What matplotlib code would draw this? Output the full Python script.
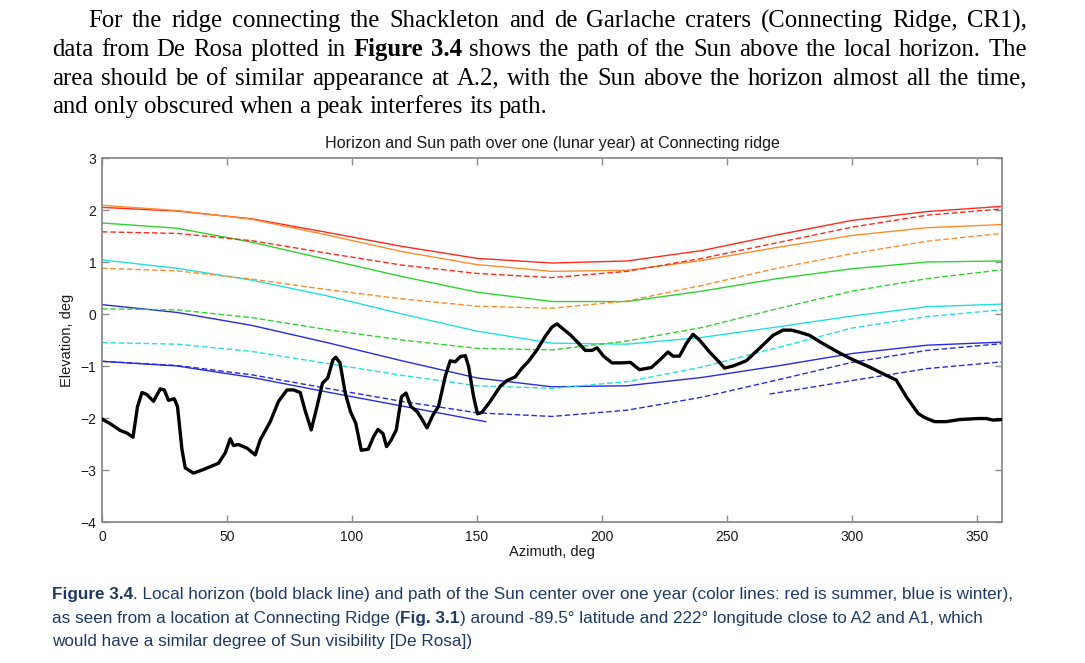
import matplotlib
matplotlib.use("Agg")
import matplotlib.pyplot as plt

# ---------------- data ----------------
TITLE = "Horizon and Sun path over one (lunar year) at Connecting ridge"
XLABEL = "Azimuth, deg"
YLABEL = "Elevation, deg"
XTICKS = [0, 50, 100, 150, 200, 250, 300, 350]
YTICKS = [-4, -3, -2, -1, 0, 1, 2, 3]

# local horizon (azimuth deg, elevation deg)
horizon_pts = [
    (0, -2.02), (3.3, -2.11), (7.3, -2.24), (10, -2.29), (12.4, -2.37), (14.2, -1.78),
    (16, -1.51), (18, -1.55), (20.6, -1.68), (23.3, -1.44), (24.9, -1.46), (26.6, -1.66),
    (28.9, -1.63), (30.2, -1.78), (32, -2.61), (33.3, -2.96), (36.6, -3.06), (40.6, -2.99),
    (46.6, -2.87), (49.3, -2.67), (51.3, -2.40), (52.6, -2.53), (54.6, -2.51), (58, -2.58),
    (61.3, -2.71), (63.3, -2.42), (67.3, -2.07), (70.6, -1.68), (74, -1.46), (76.6, -1.46),
    (79.3, -1.51), (81.2, -1.85), (83.7, -2.23), (86, -1.78), (88.2, -1.33), (90.3, -1.23),
    (92.4, -0.88), (93.5, -0.83), (95.2, -0.94), (97.3, -1.52), (99.4, -1.88), (101.5, -2.10),
    (103.7, -2.62), (106.5, -2.60), (108.6, -2.36), (110.4, -2.22), (112.4, -2.30), (113.8, -2.55),
    (115.6, -2.43), (117.7, -2.23), (119.8, -1.59), (121.6, -1.52), (123.6, -1.78), (126.1, -1.88),
    (128.2, -2.04), (130, -2.19), (132.4, -1.94), (134.6, -1.78), (137.3, -1.20), (139.3, -0.90),
    (141.3, -0.92), (143.3, -0.82), (145.3, -0.80), (146.6, -1.00), (148.6, -1.58), (150.2, -1.92),
    (152, -1.89), (155.3, -1.68), (159.3, -1.39), (162, -1.28), (165.3, -1.21), (168, -1.04),
    (170.6, -0.91), (174, -0.69), (177.3, -0.43), (180, -0.25), (182, -0.19), (184, -0.27),
    (187.3, -0.40), (190.6, -0.56), (193.3, -0.70), (196, -0.70), (198, -0.65), (200.6, -0.81),
    (204, -0.94), (208, -0.94), (211.3, -0.93), (215, -1.07), (219.7, -1.03), (223, -0.89),
    (226.4, -0.73), (228.4, -0.81), (231, -0.81), (233.7, -0.57), (236.4, -0.39), (239, -0.50),
    (243, -0.73), (247, -0.93), (249, -1.04), (252.4, -1.00), (257.7, -0.90), (263, -0.66),
    (268.4, -0.41), (272.4, -0.31), (275.7, -0.31), (279, -0.35), (283, -0.41), (288.4, -0.57),
    (295, -0.75), (300.4, -0.88), (307, -1.02), (313.7, -1.18), (317.7, -1.27), (321.7, -1.59),
    (326.4, -1.91), (329, -1.99), (333, -2.07), (337.7, -2.07), (343, -2.03), (350.4, -2.01),
    (353.7, -2.01), (356.4, -2.04), (360, -2.03),
]

# Sun paths sampled every 30 deg of azimuth
SUN_AZ = [0, 30, 60, 90, 120, 150, 180, 210, 240, 270, 300, 330, 360]
red_solid    = [2.05, 1.98, 1.83, 1.57, 1.30, 1.07, 0.98, 1.02, 1.22, 1.52, 1.80, 1.97, 2.07]
orange_solid = [2.09, 1.99, 1.82, 1.52, 1.20, 0.95, 0.82, 0.84, 1.03, 1.28, 1.51, 1.66, 1.72]
green_solid  = [1.75, 1.65, 1.38, 1.05, 0.72, 0.42, 0.24, 0.24, 0.44, 0.68, 0.87, 1.00, 1.02]
cyan_solid   = [1.04, 0.88, 0.65, 0.35, 0.00, -0.33, -0.56, -0.58, -0.45, -0.25, -0.04, 0.14, 0.19]
blue_solid   = [0.18, 0.03, -0.22, -0.55, -0.90, -1.23, -1.40, -1.38, -1.22, -1.00, -0.76, -0.60, -0.54]
red_dash     = [1.58, 1.55, 1.41, 1.17, 0.94, 0.78, 0.70, 0.82, 1.07, 1.37, 1.67, 1.90, 2.02]
orange_dash  = [0.88, 0.83, 0.67, 0.47, 0.29, 0.15, 0.11, 0.25, 0.55, 0.88, 1.16, 1.40, 1.55]
green_dash   = [0.10, 0.08, -0.07, -0.30, -0.50, -0.66, -0.69, -0.52, -0.26, 0.10, 0.44, 0.68, 0.85]
cyan_dash    = [-0.55, -0.58, -0.72, -0.95, -1.18, -1.38, -1.43, -1.30, -1.02, -0.65, -0.27, -0.05, 0.08]
blue_dash    = [-0.91, -0.99, -1.17, -1.43, -1.68, -1.90, -1.97, -1.85, -1.60, -1.27, -0.93, -0.70, -0.57]

# partial paths
blue_low_az = [0, 30, 60, 90, 120, 150, 153.5]
blue_low_el = [-0.91, -1.00, -1.22, -1.50, -1.77, -2.04, -2.07]
blue_short_az = [267, 300, 330, 360]
blue_short_el = [-1.54, -1.28, -1.05, -0.92]

# page text
PARAGRAPH = [
    [("For the ridge connecting the Shackleton and de Garlache craters (Connecting Ridge, CR1),", False)],
    [("data from De Rosa plotted in ", False), ("Figure 3.4", True),
     (" shows the path of the Sun above the local horizon. The", False)],
    [("area should be of similar appearance at A.2, with the Sun above the horizon almost all the time,", False)],
    [("and only obscured when a peak interferes its path.", False)],
]
CAPTION = [
    [("Figure 3.4", True), (". Local horizon (bold black line) and path of the Sun center over one year "
                            "(color lines: red is summer, blue is winter),", False)],
    [("as seen from a location at Connecting Ridge (", False), ("Fig. 3.1", True),
     (") around -89.5\u00b0 latitude and 222\u00b0 longitude close to A2 and A1, which", False)],
    [("would have a similar degree of Sun visibility [De Rosa])", False)],
]

# ---------------- figure ----------------
W, H, DPI = 1085, 663, 100
fig = plt.figure(figsize=(W / DPI, H / DPI), dpi=DPI)
fig.patch.set_facecolor("white")

ax = fig.add_axes([102 / W, 1 - 522 / H, 900 / W, 364 / H])

C_RED, C_ORANGE, C_GREEN, C_CYAN, C_BLUE = "#ff2a1a", "#ff8c2a", "#2ed42e", "#22e0e0", "#2a2ae0"
LW = 1.0
DASH = (0, (4, 2))

ax.plot(SUN_AZ, red_solid, color=C_RED, lw=LW)
ax.plot(SUN_AZ, orange_solid, color=C_ORANGE, lw=LW)
ax.plot(SUN_AZ, green_solid, color=C_GREEN, lw=LW)
ax.plot(SUN_AZ, cyan_solid, color=C_CYAN, lw=LW)
ax.plot(SUN_AZ, blue_solid, color=C_BLUE, lw=LW)
ax.plot(blue_low_az, blue_low_el, color=C_BLUE, lw=LW)
ax.plot(SUN_AZ, red_dash, color=C_RED, lw=LW, ls=DASH)
ax.plot(SUN_AZ, orange_dash, color=C_ORANGE, lw=LW, ls=DASH)
ax.plot(SUN_AZ, green_dash, color=C_GREEN, lw=LW, ls=DASH)
ax.plot(SUN_AZ, cyan_dash, color=C_CYAN, lw=LW, ls=DASH)
ax.plot(SUN_AZ, blue_dash, color=C_BLUE, lw=LW, ls=DASH)
ax.plot(blue_short_az, blue_short_el, color=C_BLUE, lw=LW, ls=DASH)

h_az = [p[0] for p in horizon_pts]
h_el = [p[1] for p in horizon_pts]
ax.plot(h_az, h_el, color="black", lw=2.4, solid_joinstyle="round", zorder=5)

ax.set_xlim(0, 360)
ax.set_ylim(-4, 3)
ax.set_xticks(XTICKS)
ax.set_yticks(YTICKS)
SANS = "Liberation Sans"
ax.tick_params(direction="in", length=5, width=1, color="#8c8c8c", top=True, right=True,
               labelsize=10, labelcolor="#1a1a1a")
ax.tick_params(axis="x", pad=6)
ax.tick_params(axis="y", pad=4)
for lab in ax.get_xticklabels() + ax.get_yticklabels():
    lab.set_family(SANS)
for s in ax.spines.values():
    s.set_color("#8c8c8c")
    s.set_linewidth(1.3)

ax.set_title(TITLE, fontsize=11.6, family=SANS, color="#1a1a1a", pad=7)
ax.set_xlabel(XLABEL, fontsize=10.5, family=SANS, color="#1a1a1a")
ax.xaxis.set_label_coords(0.5, -0.064)
ax.set_ylabel(YLABEL, fontsize=10.5, family=SANS, color="#1a1a1a")
ax.yaxis.set_label_coords(-0.031, 0.5)

# ---------------- page text layout ----------------
renderer = fig.canvas.get_renderer()


def tokens(segments):
    toks = []
    pending = False
    for text, bold in segments:
        parts = text.split(" ")
        for j, p in enumerate(parts):
            if j > 0:
                pending = True
            if p == "":
                continue
            toks.append((p, bold, pending and len(toks) > 0))
            pending = False
    return toks


def draw_justified(segments, x0, y_base, size, family, color, space_em, x1=None):
    objs = []
    for txt, bold, sp in tokens(segments):
        t = fig.text(0, 1 - y_base / H, txt, fontsize=size, family=family,
                     weight="bold" if bold else "normal", color=color,
                     ha="left", va="baseline")
        objs.append((t, sp))
    widths = [t.get_window_extent(renderer).width for t, _ in objs]
    nsp = sum(1 for _, sp in objs[1:] if sp)
    space = space_em * size * DPI / 72
    if x1 is not None and nsp:
        space = (x1 - x0 - sum(widths)) / nsp
    x = x0
    for i, ((t, sp), w) in enumerate(zip(objs, widths)):
        if i > 0 and sp:
            x += space
        t.set_x(x / W)
        x += w


def draw_runs(segments, x0, y_base, size, family, color):
    # segments joined without spaces at their boundaries
    x = x0
    for txt, bold in segments:
        t = fig.text(x / W, 1 - y_base / H, txt, fontsize=size, family=family,
                     weight="bold" if bold else "normal", color=color,
                     ha="left", va="baseline")
        x += t.get_window_extent(renderer).width


SERIF = "Liberation Serif"
par_x0 = [88, 52, 52, 52]
par_x1 = [1027, 1027, 1027, None]
par_y = [27.3, 56.0, 84.8, 113.4]
for seg, x0, x1, y in zip(PARAGRAPH, par_x0, par_x1, par_y):
    draw_justified(seg, x0, y, 17.8, SERIF, "black", 0.25, x1)

cap_y = [598.5, 622.5, 646.2]
for seg, y in zip(CAPTION, cap_y):
    draw_runs(seg, 52, y, 12.3, SANS, "#1f3a62")

fig.savefig("out.png", dpi=DPI, facecolor="white")
